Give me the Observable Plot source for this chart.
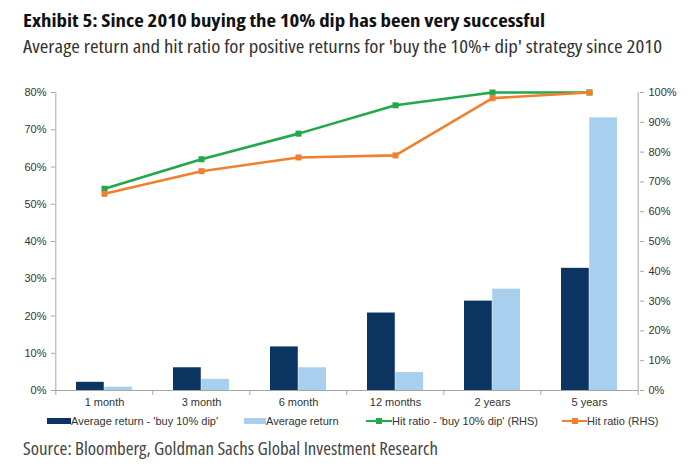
<!DOCTYPE html>
<html><head><meta charset="utf-8">
<script src="https://cdn.jsdelivr.net/npm/d3@7"></script>
<script src="https://cdn.jsdelivr.net/npm/@observablehq/plot@0.6"></script>
<style>
html,body{margin:0;padding:0;background:#fff}
body{width:700px;height:467px;position:relative;overflow:hidden;font-family:"Liberation Sans",Arial,sans-serif}
.hd{position:absolute;left:23px;white-space:nowrap;transform-origin:0 0;font-family:"Open Sans","Noto Sans",sans-serif;line-height:1;font-stretch:condensed}
#title{top:12px;font-size:17px;font-weight:700;color:#111}
#subtitle{top:37px;font-size:18.5px;font-weight:400;color:#333}
#source{top:439px;font-size:18px;font-weight:400;color:#444}
#chart{position:absolute;left:0;top:80px}
.lg{position:absolute;top:414px;height:14px;display:flex;align-items:center;font-size:11px;color:#333;white-space:nowrap}
.sw{display:inline-block;position:relative}
</style></head>
<body>
<div id="title" class="hd" data-w="522">Exhibit 5: Since 2010 buying the 10% dip has been very successful</div>
<div id="subtitle" class="hd" data-w="639">Average return and hit ratio for positive returns for 'buy the 10%+ dip' strategy since 2010</div>
<div id="chart"></div>
<div id="legend"></div>
<div id="source" class="hd" data-w="415">Source: Bloomberg, Goldman Sachs Global Investment Research</div>
<script>
// ---- data ----
const categories = ["1 month", "3 month", "6 month", "12 months", "2 years", "5 years"];
const avgReturnDip = [2.2, 6.1, 11.7, 20.8, 24.0, 32.8];   // % (LHS)
const avgReturn    = [0.9, 3.0, 6.1, 4.8, 27.2, 73.2];     // % (LHS)
const hitRatioDip  = [67.7, 77.6, 86.2, 95.7, 100, 100];   // % (RHS)
const hitRatio     = [66.0, 73.6, 78.2, 78.9, 98.1, 100];  // % (RHS)
const leftTicks  = [0, 10, 20, 30, 40, 50, 60, 70, 80];
const rightTicks = [0, 10, 20, 30, 40, 50, 60, 70, 80, 90, 100];
const seriesNames = ["Average return - 'buy 10% dip'", "Average return", "Hit ratio - 'buy 10% dip' (RHS)", "Hit ratio (RHS)"];

// ---- styling ----
const navy = "#0c3461", light = "#a8cfee", green = "#22a84b", orange = "#f0802f";
const axisCol = "#a6a6a6", textCol = "#333";
const W = 700, H = 335, mL = 55, mR = 61, mT = 12, mB = 25;
const padInner = 0.42;
const step = (W - mL - mR) / categories.length;
const bw = step * (1 - padInner);
const lhsMax = leftTicks[leftTicks.length - 1] / 100;      // 80% LHS
const rhsMax = rightTicks[rightTicks.length - 1] / 100;    // 100% RHS
const toL = v => v / rhsMax * lhsMax;

const rows = categories.map((c, i) => ({
  cat: c, dip: avgReturnDip[i] / 100, avg: avgReturn[i] / 100,
  hitDip: hitRatioDip[i] / 100, hit: hitRatio[i] / 100
}));

const plot = Plot.plot({
  width: W, height: H,
  marginLeft: mL, marginRight: mR, marginTop: mT, marginBottom: mB,
  style: {fontFamily: "'Liberation Sans', Arial, sans-serif", fontSize: "11px", color: textCol, background: "white"},
  x: {type: "band", domain: categories, paddingInner: padInner, paddingOuter: padInner / 2, label: null},
  y: {domain: [0, lhsMax], label: null},
  marks: [
    Plot.barY(rows, {x: "cat", y: "dip", fill: navy, insetRight: bw / 2}),
    Plot.barY(rows, {x: "cat", y: "avg", fill: light, insetLeft: bw / 2}),
    Plot.ruleY([0], {stroke: axisCol}),
    Plot.ruleX([categories[0]], {x: d => d, dx: -step / 2, y1: 0, y2: lhsMax, stroke: axisCol}),
    Plot.ruleX([categories[categories.length - 1]], {x: d => d, dx: step / 2, y1: 0, y2: lhsMax, stroke: axisCol}),
    Plot.ruleX(categories, {x: d => d, dx: -step / 2, y1: 0, y2: 0, insetBottom: -5, stroke: axisCol}),
    Plot.ruleX([categories[categories.length - 1]], {x: d => d, dx: step / 2, y1: 0, y2: 0, insetBottom: -5, stroke: axisCol}),
    Plot.axisX({tickSize: 0, tickPadding: 8, fill: textCol}),
    Plot.axisY(leftTicks.map(v => v / 100), {anchor: "left", tickSize: 4, tickPadding: 5, stroke: axisCol, fill: textCol, tickFormat: d => Math.round(d * 100) + "%", label: null}),
    Plot.axisY(rightTicks.map(v => toL(v / 100)), {anchor: "right", tickSize: 4, tickPadding: 5, stroke: axisCol, fill: textCol, tickFormat: d => Math.round(d / lhsMax * rhsMax * 100) + "%", label: null}),
    Plot.line(rows, {x: "cat", y: d => toL(d.hitDip), stroke: green, strokeWidth: 2.6}),
    Plot.dot(rows, {x: "cat", y: d => toL(d.hitDip), symbol: "square", fill: green, r: 3.4}),
    Plot.line(rows, {x: "cat", y: d => toL(d.hit), stroke: orange, strokeWidth: 2.6}),
    Plot.dot(rows, {x: "cat", y: d => toL(d.hit), symbol: "square", fill: orange, r: 3.4})
  ]
});
document.getElementById("chart").appendChild(plot);

// ---- legend ----
const legendItems = [
  {name: seriesNames[0], kind: "bar", color: navy, left: 47, sw: 24},
  {name: seriesNames[1], kind: "bar", color: light, left: 244, sw: 22},
  {name: seriesNames[2], kind: "line", color: green, left: 366, sw: 26},
  {name: seriesNames[3], kind: "line", color: orange, left: 562, sw: 25}
];
const lg = document.getElementById("legend");
for (const it of legendItems) {
  const d = document.createElement("div");
  d.className = "lg"; d.style.left = it.left + "px";
  const s = document.createElement("span");
  s.className = "sw"; s.style.width = it.sw + "px";
  if (it.kind === "bar") { s.style.height = "6px"; s.style.background = it.color; }
  else {
    s.style.height = "7px";
    s.innerHTML = `<span style="position:absolute;left:0;right:0;top:2.25px;height:2.5px;background:${it.color}"></span><span style="position:absolute;left:${it.sw/2-3}px;top:0.5px;width:6px;height:6px;background:${it.color}"></span>`;
  }
  const t = document.createElement("span"); t.textContent = it.name;
  d.appendChild(s); d.appendChild(t); lg.appendChild(d);
}

// fit header text widths to the reference
for (const el of document.querySelectorAll(".hd")) {
  const w = el.getBoundingClientRect().width;
  el.style.transform = `scaleX(${(+el.dataset.w) / w})`;
}
</script>
</body></html>
